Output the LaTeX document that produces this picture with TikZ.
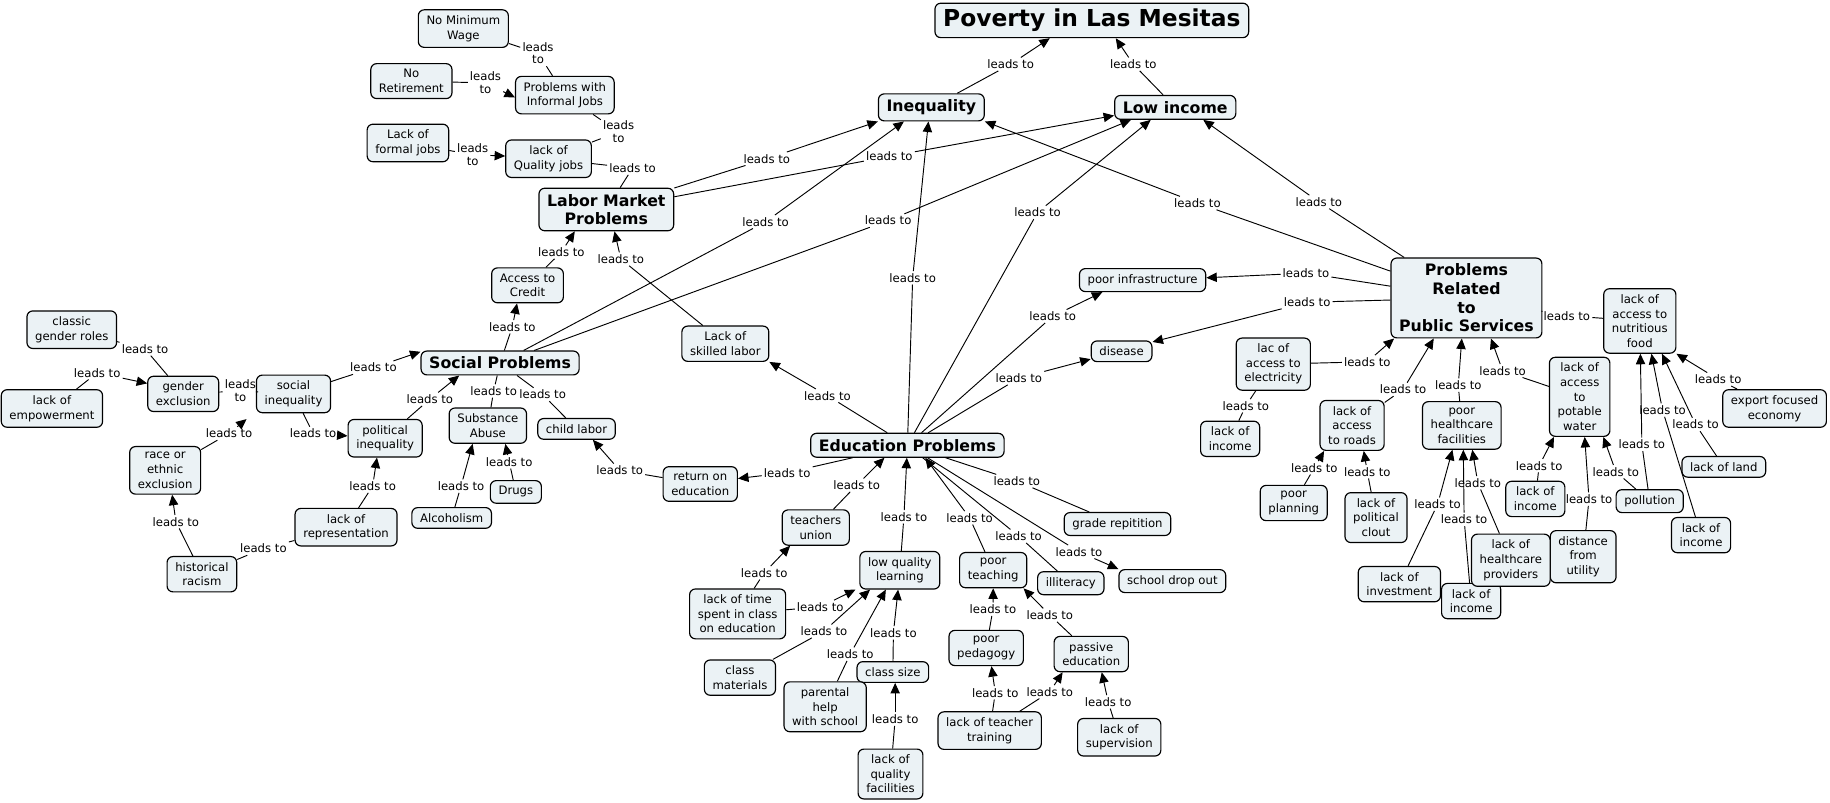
\documentclass[tikz,border=0pt]{standalone}
\usepackage{fontspec}
\setmainfont{DejaVu Sans}
\usetikzlibrary{arrows.meta}
\definecolor{conceptfill}{RGB}{235,242,245}
\tikzset{every picture/.style={line width=0.8pt}}
\tikzset{concept node/.style={draw, line width=1pt, rounded corners=5pt, fill=conceptfill, align=center, inner xsep=7pt, inner ysep=5pt, font=\fontsize{10}{12.5}\selectfont}}
\tikzset{main node/.style={concept node, font=\bfseries\fontsize{13.5}{16}\selectfont}}
\tikzset{title node/.style={concept node, font=\bfseries\fontsize{20}{24}\selectfont}}
\tikzset{link node/.style={inner sep=1.5pt, align=center, font=\fontsize{10}{11}\selectfont}}
\tikzset{leads/.style={-{Triangle[length=9pt,width=8pt]}}}
\newcommand{\pil}[3]{\draw (#1) -- (#2); \draw[leads] (#2) -- (#3);}
\newcommand{\streg}[3]{\draw (#1) -- (#2); \draw (#2) -- (#3);}

\begin{document}
\begin{tikzpicture}[x=1pt,y=-1pt]
        \useasboundingbox (0,0) rectangle (1568,688);
        % concepts
        \node[title node] (title) at (935.5,17.5) {Poverty in Las Mesitas};
        \node[main node] (ineq) at (798,92) {Inequality};
        \node[main node] (lowinc) at (1007,92) {Low income};
        \node[main node] (labor) at (519.5,179.5) {Labor Market\\Problems};
        \node[main node] (social) at (428.5,311) {Social Problems};
        \node[main node] (edu) at (777.5,381.5) {Education Problems};
        \node[main node] (public) at (1256.5,255.3) {Problems\\Related\\to\\Public Services};
        \node[concept node] (informal) at (484,81.5) {Problems with\\Informal Jobs};
        \node[concept node] (noretire) at (352.5,69.5) {No\\Retirement};
        \node[concept node] (minwage) at (397,24.5) {No Minimum\\Wage};
        \node[concept node] (formal) at (349.5,122.5) {Lack of\\formal jobs};
        \node[concept node] (quality) at (470,136) {lack of\\Quality jobs};
        \node[concept node] (credit) at (452,244.5) {Access to\\Credit};
        \node[concept node] (roles) at (61.5,282.5) {classic\\gender roles};
        \node[concept node] (gender) at (157,337.5) {gender\\exclusion};
        \node[concept node] (socineq) at (251.5,337.5) {social\\inequality};
        \node[concept node] (empower) at (44.5,350) {lack of\\empowerment};
        \node[concept node] (race) at (141.5,403) {race or\\ethnic\\exclusion};
        \node[concept node] (polineq) at (330,375.5) {political\\inequality};
        \node[concept node] (substance) at (418,364.7) {Substance\\Abuse};
        \node[concept node] (child) at (494,367.5) {child labor};
        \node[concept node] (drugs) at (442,421.5) {Drugs};
        \node[concept node] (alcohol) at (387,443.8) {Alcoholism};
        \node[concept node] (represent) at (296.5,451.7) {lack of\\representation};
        \node[concept node] (racism) at (173,492) {historical\\racism};
        \node[concept node] (skilled) at (621.5,294.5) {Lack of\\skilled labor};
        \node[concept node] (infra) at (979,240) {poor infrastructure};
        \node[concept node] (disease) at (961,301) {disease};
        \node[concept node] (food) at (1405,275) {lack of\\access to\\nutritious\\food};
        \node[concept node] (electric) at (1091,312) {lac of\\access to\\electricity};
        \node[concept node] (roads) at (1158.5,364.5) {lack of\\access\\to roads};
        \node[concept node] (health) at (1252.5,364.5) {poor\\healthcare\\facilities};
        \node[concept node] (water) at (1353.5,340) {lack of\\access\\to\\potable\\water};
        \node[concept node] (export) at (1520.5,350) {export focused\\economy};
        \node[concept node] (incomeA) at (1054,376) {lack of\\income};
        \node[concept node] (planning) at (1108.5,431) {poor\\planning};
        \node[concept node] (clout) at (1179,443.5) {lack of\\political\\clout};
        \node[concept node] (incomeB) at (1315.5,427.5) {lack of\\income};
        \node[concept node] (pollution) at (1413.5,429.4) {pollution};
        \node[concept node] (land) at (1477,400) {lack of land};
        \node[concept node] (incomeC) at (1457.5,458.5) {lack of\\income};
        \node[concept node] (distance) at (1356.5,477) {distance\\from\\utility};
        \node[concept node] (incomeD) at (1260.5,515) {lack of\\income};
        \node[concept node] (providers) at (1294.5,480) {lack of\\healthcare\\providers};
        \node[concept node] (invest) at (1199,500.5) {lack of\\investment};
        \node[concept node] (roe) at (600,414.7) {return on\\education};
        \node[concept node] (union) at (699,452) {teachers\\union};
        \node[concept node] (lowq) at (771,488.6) {low quality\\learning};
        \node[concept node] (poorteach) at (851,488.5) {poor\\teaching};
        \node[concept node] (illit) at (917.5,499.7) {illiteracy};
        \node[concept node] (dropout) at (1004.5,497.9) {school drop out};
        \node[concept node] (grade) at (957.5,449) {grade repitition};
        \node[concept node] (classtime) at (632,526) {lack of time\\spent in class\\on education};
        \node[concept node] (materials) at (634,580.6) {class\\materials};
        \node[concept node] (classsize) at (765,575.8) {class size};
        \node[concept node] (parental) at (707,605.6) {parental\\help\\with school};
        \node[concept node] (facilities) at (763,663.2) {lack of\\quality\\facilities};
        \node[concept node] (pedagogy) at (845,555.2) {poor\\pedagogy};
        \node[concept node] (passive) at (935,560.4) {passive\\education};
        \node[concept node] (training) at (848,626) {lack of teacher\\training};
        \node[concept node] (supervision) at (959,631.7) {lack of\\supervision};
        % linking phrases
        \node[link node] (l1) at (866,55) {leads to};
        \node[link node] (l2) at (971,55) {leads to};
        \node[link node] (l3) at (657,136) {leads to};
        \node[link node] (l4) at (762,134) {leads to};
        \node[link node] (l5) at (656,190) {leads to};
        \node[link node] (l6) at (761,189) {leads to};
        \node[link node] (l7) at (782,238) {leads to};
        \node[link node] (l8) at (889,182) {leads to};
        \node[link node] (l9) at (1026,174) {leads to};
        \node[link node] (l10) at (1130,173) {leads to};
        \node[link node] (l11) at (1119,234) {leads to};
        \node[link node] (l12) at (1120,259) {leads to};
        \node[link node] (l13) at (902,271) {leads to};
        \node[link node] (l14) at (873,324) {leads to};
        \node[link node] (l15) at (709,339) {leads to};
        \node[link node] (l16) at (532,222) {leads to};
        \node[link node] (l17) at (481,216) {leads to};
        \node[link node] (l18) at (439,280) {leads to};
        \node[link node] (l19) at (542,144) {leads to};
        \node[link node] (l20) at (530,113) {leads\\to};
        \node[link node] (l21) at (461,45.5) {leads\\to};
        \node[link node] (l22) at (416,71) {leads\\to};
        \node[link node] (l23) at (405,132.6) {leads\\to};
        \node[link node] (l24) at (320,315) {leads to};
        \node[link node] (l25) at (206,335) {leads\\to};
        \node[link node] (l26) at (124.3,299) {leads to};
        \node[link node] (l27) at (83.3,319.4) {leads to};
        \node[link node] (l28) at (196.3,371.4) {leads to};
        \node[link node] (l29) at (268.3,371.4) {leads to};
        \node[link node] (l30) at (150.7,447) {leads to};
        \node[link node] (l31) at (225.7,470) {leads to};
        \node[link node] (l32) at (319.3,416.5) {leads to};
        \node[link node] (l33) at (368.3,342) {leads to};
        \node[link node] (l34) at (423,335) {leads to};
        \node[link node] (l35) at (465,338) {leads to};
        \node[link node] (l36) at (395,416.5) {leads to};
        \node[link node] (l37) at (436.3,395.7) {leads to};
        \node[link node] (l38) at (531,403) {leads to};
        \node[link node] (l39) at (674.5,405) {leads to};
        \node[link node] (l40) at (734,415.7) {leads to};
        \node[link node] (l41) at (774.5,442.8) {leads to};
        \node[link node] (l42) at (830.8,443.7) {leads to};
        \node[link node] (l43) at (872.8,459.4) {leads to};
        \node[link node] (l44) at (924.5,472.8) {leads to};
        \node[link node] (l45) at (871.2,412.2) {leads to};
        \node[link node] (l46) at (702.8,520) {leads to};
        \node[link node] (l47) at (654.8,490.8) {leads to};
        \node[link node] (l48) at (706,540.8) {leads to};
        \node[link node] (l49) at (728.5,560.5) {leads to};
        \node[link node] (l50) at (765.5,542.2) {leads to};
        \node[link node] (l51) at (767,616.2) {leads to};
        \node[link node] (l52) at (850.8,522) {leads to};
        \node[link node] (l53) at (899.5,527) {leads to};
        \node[link node] (l54) at (852.8,593.6) {leads to};
        \node[link node] (l55) at (899.5,592.8) {leads to};
        \node[link node] (l56) at (949.5,601.4) {leads to};
        \node[link node] (l57) at (1171.5,310) {leads to};
        \node[link node] (l58) at (1067.5,347.7) {leads to};
        \node[link node] (l59) at (1202.2,333.7) {leads to};
        \node[link node] (l60) at (1249.5,330) {leads to};
        \node[link node] (l61) at (1287.5,317.7) {leads to};
        \node[link node] (l62) at (1342.5,270.5) {leads to};
        \node[link node] (l63) at (1126.2,400.8) {leads to};
        \node[link node] (l64) at (1171.5,404.2) {leads to};
        \node[link node] (l65) at (1231.8,432) {leads to};
        \node[link node] (l66) at (1254.5,445) {leads to};
        \node[link node] (l67) at (1266.2,413.7) {leads to};
        \node[link node] (l68) at (1318.8,399) {leads to};
        \node[link node] (l69) at (1361.5,427.7) {leads to};
        \node[link node] (l70) at (1384.5,404.2) {leads to};
        \node[link node] (l71) at (1406.8,380.8) {leads to};
        \node[link node] (l72) at (1424.5,351.4) {leads to};
        \node[link node] (l73) at (1452.8,363.7) {leads to};
        \node[link node] (l74) at (1472.2,325) {leads to};
        % connectors
        \pil{ineq}{l1}{[xshift=-36]title.south}
        \pil{lowinc}{l2}{[xshift=20.5]title.south}
        \pil{labor}{l3}{ineq.south west}
        \pil{labor}{l4}{[yshift=-7]lowinc.west}
        \pil{social}{l5}{[xshift=-23.5]ineq.south}
        \pil{social}{l6}{[xshift=-38]lowinc.south}
        \pil{edu}{l7}{[xshift=-2.5]ineq.south}
        \pil{edu}{l8}{[xshift=-21]lowinc.south}
        \pil{public}{l9}{ineq.south east}
        \pil{public}{l10}{[xshift=24]lowinc.south}
        \pil{public}{l11}{[yshift=2]infra.east}
        \pil{public}{l12}{[yshift=8]disease.east}
        \pil{edu}{l13}{[xshift=-34.5]infra.south}
        \pil{edu}{l14}{[yshift=-6.7]disease.west}
        \pil{edu}{l15}{skilled.south east}
        \pil{skilled}{l16}{[xshift=7]labor.south}
        \pil{credit}{l17}{[xshift=-27]labor.south}
        \pil{social}{l18}{[xshift=-9]credit.south}
        \streg{quality}{l19}{labor}
        \streg{informal}{l20}{quality}
        \streg{minwage}{l21}{informal}
        \pil{noretire}{l22}{[yshift=-2]informal.west}
        \pil{formal}{l23}{[yshift=2.3]quality.west}
        \pil{socineq}{l24}{[yshift=9.6]social.west}
        \streg{gender}{l25}{socineq}
        \streg{roles}{l26}{gender}
        \pil{empower}{l27}{[yshift=9]gender.west}
        \pil{race}{l28}{[xshift=-8,yshift=-5]socineq.south west}
        \pil{socineq}{l29}{[yshift=2]polineq.west}
        \pil{racism}{l30}{[xshift=6]race.south}
        \streg{racism}{l31}{represent}
        \pil{represent}{l32}{[xshift=-7]polineq.south}
        \pil{polineq}{l33}{[xshift=-35]social.south}
        \streg{substance}{l34}{social}
        \streg{social}{l35}{child}
        \pil{alcohol}{l36}{[xshift=-13]substance.south}
        \pil{drugs}{l37}{[xshift=15]substance.south}
        \pil{roe}{l38}{[xshift=14]child.south}
        \pil{edu}{l39}{[yshift=4.7]roe.east}
        \pil{union}{l40}{[xshift=-19.7]edu.south}
        \pil{lowq}{l41}{[xshift=-0.5]edu.south}
        \pil{poorteach}{l42}{[xshift=15.3]edu.south}
        \streg{illit}{l43}{edu}
        \pil{edu}{l44}{dropout.north west}
        \streg{grade}{l45}{edu}
        \pil{classtime}{l46}{[xshift=-38]lowq.south}
        \pil{classtime}{l47}{[xshift=-22]union.south}
        \pil{materials}{l48}{[xshift=-25.5]lowq.south}
        \pil{parental}{l49}{[xshift=-12]lowq.south}
        \pil{classsize}{l50}{[xshift=-1.5]lowq.south}
        \pil{facilities}{l51}{[xshift=2]classsize.south}
        \pil{pedagogy}{l52}{poorteach.south}
        \pil{passive}{l53}{[xshift=26]poorteach.south}
        \pil{training}{l54}{[xshift=4.5]pedagogy.south}
        \pil{training}{l55}{[xshift=-24.5]passive.south}
        \pil{supervision}{l56}{[xshift=9]passive.south}
        \pil{electric}{l57}{[xshift=-62]public.south}
        \streg{incomeA}{l58}{electric}
        \pil{roads}{l59}{[xshift=-28]public.south}
        \pil{health}{l60}{[xshift=-4]public.south}
        \pil{water}{l61}{[xshift=21]public.south}
        \streg{food}{l62}{public}
        \pil{planning}{l63}{[xshift=-24]roads.south}
        \pil{clout}{l64}{[xshift=10]roads.south}
        \pil{invest}{l65}{[xshift=-8]health.south}
        \pil{incomeD}{l66}{[xshift=1.3]health.south}
        \pil{providers}{l67}{[xshift=9]health.south}
        \pil{incomeB}{l68}{[xshift=-22]water.south}
        \pil{distance}{l69}{[xshift=4.3]water.south}
        \pil{pollution}{l70}{[xshift=20.3]water.south}
        \pil{pollution}{l71}{[xshift=0.5]food.south}
        \pil{incomeC}{l72}{[xshift=10]food.south}
        \pil{land}{l73}{[xshift=19]food.south}
        \pil{export}{l74}{food.south east}
    \end{tikzpicture}
\end{document}
